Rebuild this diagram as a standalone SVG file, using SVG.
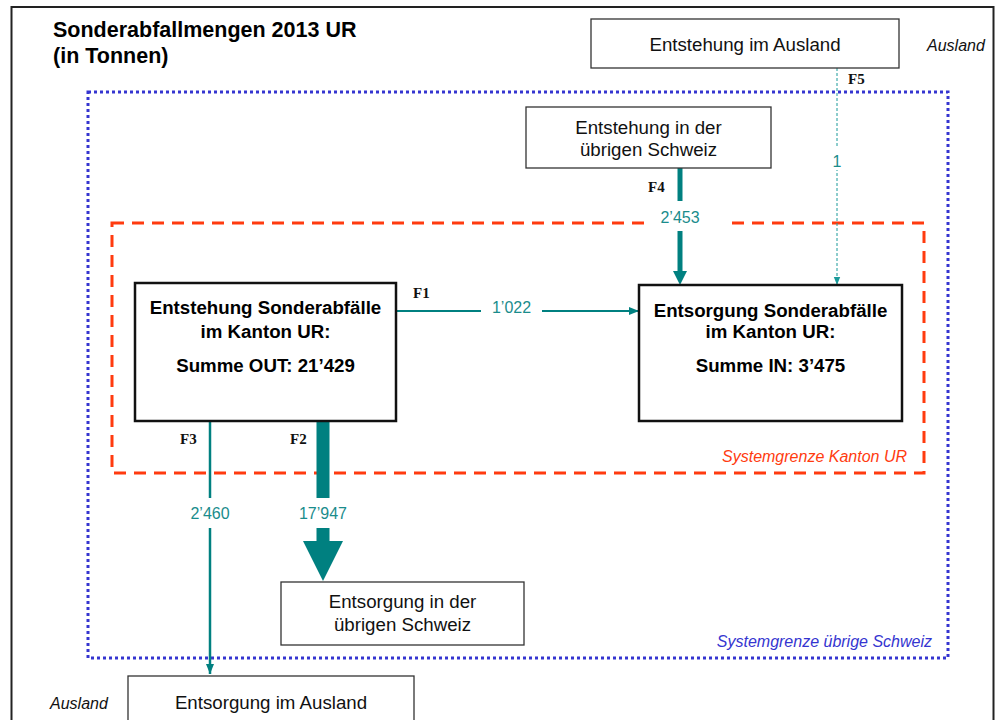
<svg xmlns="http://www.w3.org/2000/svg" width="1002" height="720" viewBox="0 0 1002 720">
<style>
.t{font-family:"Liberation Sans",Arial,sans-serif;fill:#000}
.tb{font-family:"Liberation Sans",Arial,sans-serif;font-weight:bold;fill:#000;font-size:18.7px;text-anchor:middle}
.tn{font-family:"Liberation Sans",Arial,sans-serif;font-size:18.7px;text-anchor:middle;fill:#111}
.box{fill:#fff;stroke:#333;stroke-width:1.3}
.mbox{fill:#fff;stroke:#111;stroke-width:2.5}
.fl{font-family:"Liberation Serif","Times New Roman",serif;font-weight:bold;font-size:15px;fill:#111}
.num{font-family:"Liberation Sans",Arial,sans-serif;font-size:16px;fill:#1a8c8c;text-anchor:middle}
.bg{fill:#fff}
.it{font-family:"Liberation Sans",Arial,sans-serif;font-style:italic;font-size:16px}
</style>
<defs>
<marker id="ah" markerUnits="userSpaceOnUse" markerWidth="10" markerHeight="10" viewBox="0 0 10 10" refX="10" refY="5" orient="auto"><path d="M0,1 L10,5 L0,9 z" fill="#008080"/></marker>
<marker id="ahs" markerUnits="userSpaceOnUse" markerWidth="8" markerHeight="8" viewBox="0 0 10 10" refX="10" refY="5" orient="auto"><path d="M0,1 L10,5 L0,9 z" fill="#1a9a9a"/></marker>
</defs>
<rect x="0" y="0" width="1002" height="720" fill="#fff"/>
<rect x="11.5" y="7" width="982" height="730" fill="none" stroke="#222" stroke-width="2"/>
<g id="title">
<text class="t" x="53" y="37" font-size="21.5px" font-weight="bold">Sonderabfallmengen 2013 UR</text>
<text class="t" x="53" y="63" font-size="21.5px" font-weight="bold">(in Tonnen)</text>
</g>
<g id="systemgrenze-schweiz">
<rect x="88" y="92" width="860" height="566" fill="none" stroke="#3535d0" stroke-width="3" stroke-dasharray="3 3"/>
<text class="it" x="932" y="647" text-anchor="end" fill="#3535d0">Systemgrenze übrige Schweiz</text>
</g>
<g id="systemgrenze-ur">
<rect x="112" y="223" width="812" height="250" fill="none" stroke="#ff3b0f" stroke-width="3" stroke-dasharray="12 8"/>
<text class="it" x="907" y="462" text-anchor="end" fill="#ff3b0f">Systemgrenze Kanton UR</text>
</g>
<g id="connectors">
<line x1="396" y1="311" x2="639" y2="311" stroke="#008080" stroke-width="2" marker-end="url(#ah)"/>
<line x1="680" y1="168" x2="680" y2="273" stroke="#008080" stroke-width="5"/>
<polygon points="673,271 687,271 680,285" fill="#008080"/>
<line x1="837" y1="68" x2="837" y2="285" stroke="#1a9a9a" stroke-width="1" stroke-dasharray="3 2" marker-end="url(#ahs)"/>
<line x1="210" y1="421" x2="210" y2="674" stroke="#008080" stroke-width="2.5" marker-end="url(#ah)"/>
<line x1="323" y1="421" x2="323" y2="542" stroke="#008080" stroke-width="13"/>
<polygon points="303,541 343,541 323,581" fill="#008080"/>
<rect class="bg" x="481" y="300" width="61" height="22"/>
<text class="num" x="511.5" y="313">1’022</text>
<rect class="bg" x="650" y="201" width="74" height="30"/>
<text class="num" x="680" y="223">2’453</text>
<rect class="bg" x="830" y="147" width="14" height="23"/>
<text class="num" x="837" y="167">1</text>
<rect class="bg" x="186" y="498" width="48" height="30"/>
<text class="num" x="210" y="519">2’460</text>
<rect class="bg" x="295" y="498" width="56" height="30"/>
<text class="num" x="323" y="519">17’947</text>
<text class="fl" x="413" y="298">F1</text>
<text class="fl" x="648" y="192">F4</text>
<text class="fl" x="848" y="84">F5</text>
<text class="fl" x="180" y="444">F3</text>
<text class="fl" x="290" y="444">F2</text>
</g>
<g id="entstehung-ausland">
<rect class="box" x="591" y="19" width="308" height="49"/>
<text class="tn" x="745" y="51">Entstehung im Ausland</text>
</g>
<text class="it" x="927" y="51" fill="#111">Ausland</text>
<g id="entstehung-schweiz">
<rect class="box" x="526" y="107" width="245" height="61"/>
<text class="tn" x="648.5" y="134">Entstehung in der</text>
<text class="tn" x="648.5" y="156">übrigen Schweiz</text>
</g>
<g id="entstehung-ur">
<rect class="mbox" x="135" y="283" width="261" height="138"/>
<text class="tb" x="265.5" y="314">Entstehung Sonderabfälle</text>
<text class="tb" x="265.5" y="338">im Kanton UR:</text>
<text class="tb" x="265.5" y="372">Summe OUT: 21’429</text>
</g>
<g id="entsorgung-ur">
<rect class="mbox" x="639" y="285" width="263" height="136"/>
<text class="tb" x="770.5" y="317">Entsorgung Sonderabfälle</text>
<text class="tb" x="770.5" y="338">im Kanton UR:</text>
<text class="tb" x="770.5" y="372">Summe IN: 3’475</text>
</g>
<g id="entsorgung-schweiz">
<rect class="box" x="281" y="582" width="243" height="63"/>
<text class="tn" x="402.5" y="608">Entsorgung in der</text>
<text class="tn" x="402.5" y="631">übrigen Schweiz</text>
</g>
<g id="entsorgung-ausland">
<rect class="box" x="128" y="676" width="286" height="60"/>
<text class="tn" x="271" y="709">Entsorgung im Ausland</text>
</g>
<text class="it" x="50" y="709" fill="#111">Ausland</text>
</svg>
